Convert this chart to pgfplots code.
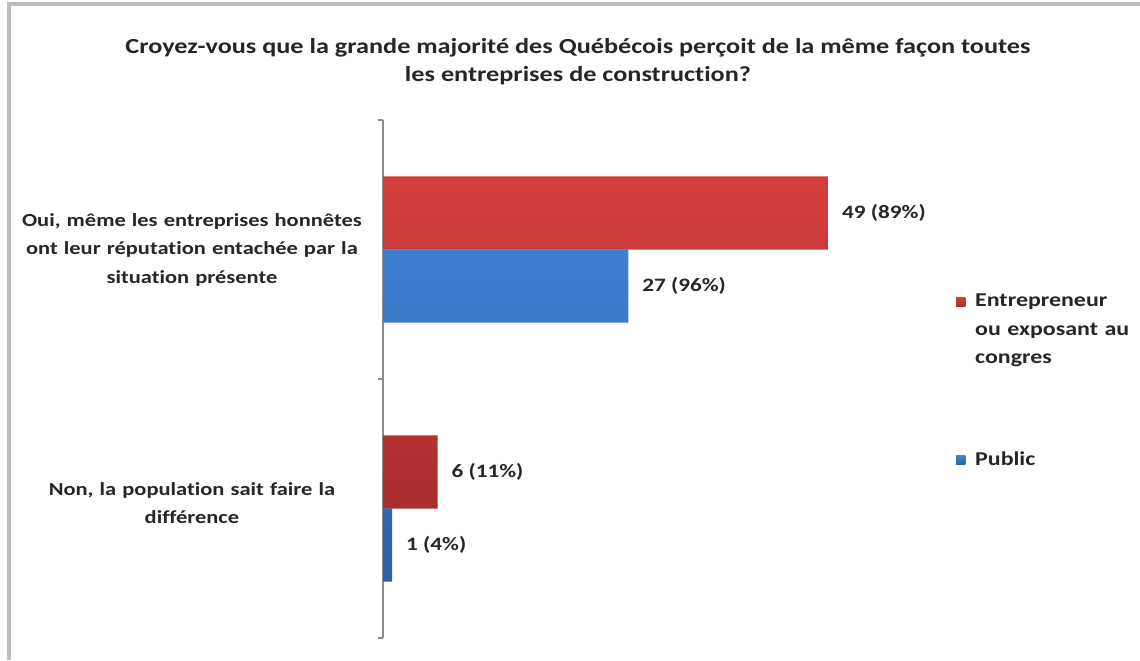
\documentclass[border=0pt]{standalone}
\usepackage{pgfplots}
\pgfplotsset{compat=1.18}
\usepackage{fontspec}
\setmainfont{Carlito}[FakeStretch=1.22, Ligatures=NoCommon]

\definecolor{redtop}{HTML}{D43D3C}
\definecolor{redbot}{HTML}{A92F2D}
\definecolor{bluetop}{HTML}{3E80D0}
\definecolor{bluebot}{HTML}{2E60A4}
\definecolor{txt}{HTML}{262626}
\definecolor{framegray}{HTML}{BDBDBD}

\begin{document}
\begin{tikzpicture}[font=\bfseries\color{txt}]
% page = 1140 x 660 px, 1 px = 0.5pt
\useasboundingbox (0,0) rectangle (570pt,330pt);
\draw[framegray, line width=2pt] (4.5pt,0) -- (4.5pt,328pt);
\draw[framegray, line width=2pt] (3.5pt,328pt) -- (570pt,328pt);

\node[align=center, font=\bfseries\fontsize{10.75}{14}\selectfont\color{txt}]
  at (289pt,299pt) {Croyez-vous que la grande majorité des Québécois perçoit de la même façon toutes\\les entreprises de construction?};

\begin{axis}[
    at={(191.5pt,11pt)}, anchor=south west,
    scale only axis,
    width=272.5pt, height=259pt,
    xbar,
    xmin=0, xmax=60,
    ymin=-0.5, ymax=1.5,
    hide x axis,
    axis y line*=left,
    axis line style={draw=black!45, line width=0.6pt},
    ytick={0.02,1},
    yticklabels={{Non, la population sait faire la\\différence},
                 {Oui, même les entreprises honnêtes\\ont leur réputation entachée par la\\situation présente}},
    yticklabel style={text width=170pt, align=center, xshift=-7pt,
                      font=\bfseries\fontsize{9.2}{14.25}\selectfont\color{txt}},
    minor ytick={-0.5,0.5,1.5},
    tick align=outside,
    major tick length=0pt,
    minor tick length=2.5pt,
    minor tick style={draw=black!45, line width=0.6pt},
    bar width=0.2827,
    point meta=explicit symbolic,
    nodes near coords,
    nodes near coords align=horizontal,
    every node near coord/.append style={anchor=west,
        font=\bfseries\fontsize{9.5}{12}\selectfont, text=txt, xshift=3.5pt},
    legend style={
        at={(1.040,0.676)}, anchor=north west,
        draw=none, fill=none,
        font=\bfseries\fontsize{9.8}{14.25}\selectfont\color{txt},
        row sep=69pt,
        nodes={text width=78pt, align=left, inner sep=1pt},
    },
    legend image code/.code={
        \fill[#1] (0pt,-2.3pt) rectangle (4.6pt,2.3pt);
        \path (0pt,0pt) -- (8.5pt,0pt);
    },
    legend cell align=left,
]
\addplot[draw=none, top color=redtop, bottom color=redbot, bar shift=0.1413]
  coordinates {(49,1) [49 (89\%)] (6,0) [6 (11\%)]};
\addplot[draw=none, top color=bluetop, bottom color=bluebot, bar shift=-0.1413]
  coordinates {(27,1) [27 (96\%)] (1,0) [1 (4\%)]};
\legend{Entrepreneur ou exposant au congres, Public}
\end{axis}
\end{tikzpicture}
\end{document}
